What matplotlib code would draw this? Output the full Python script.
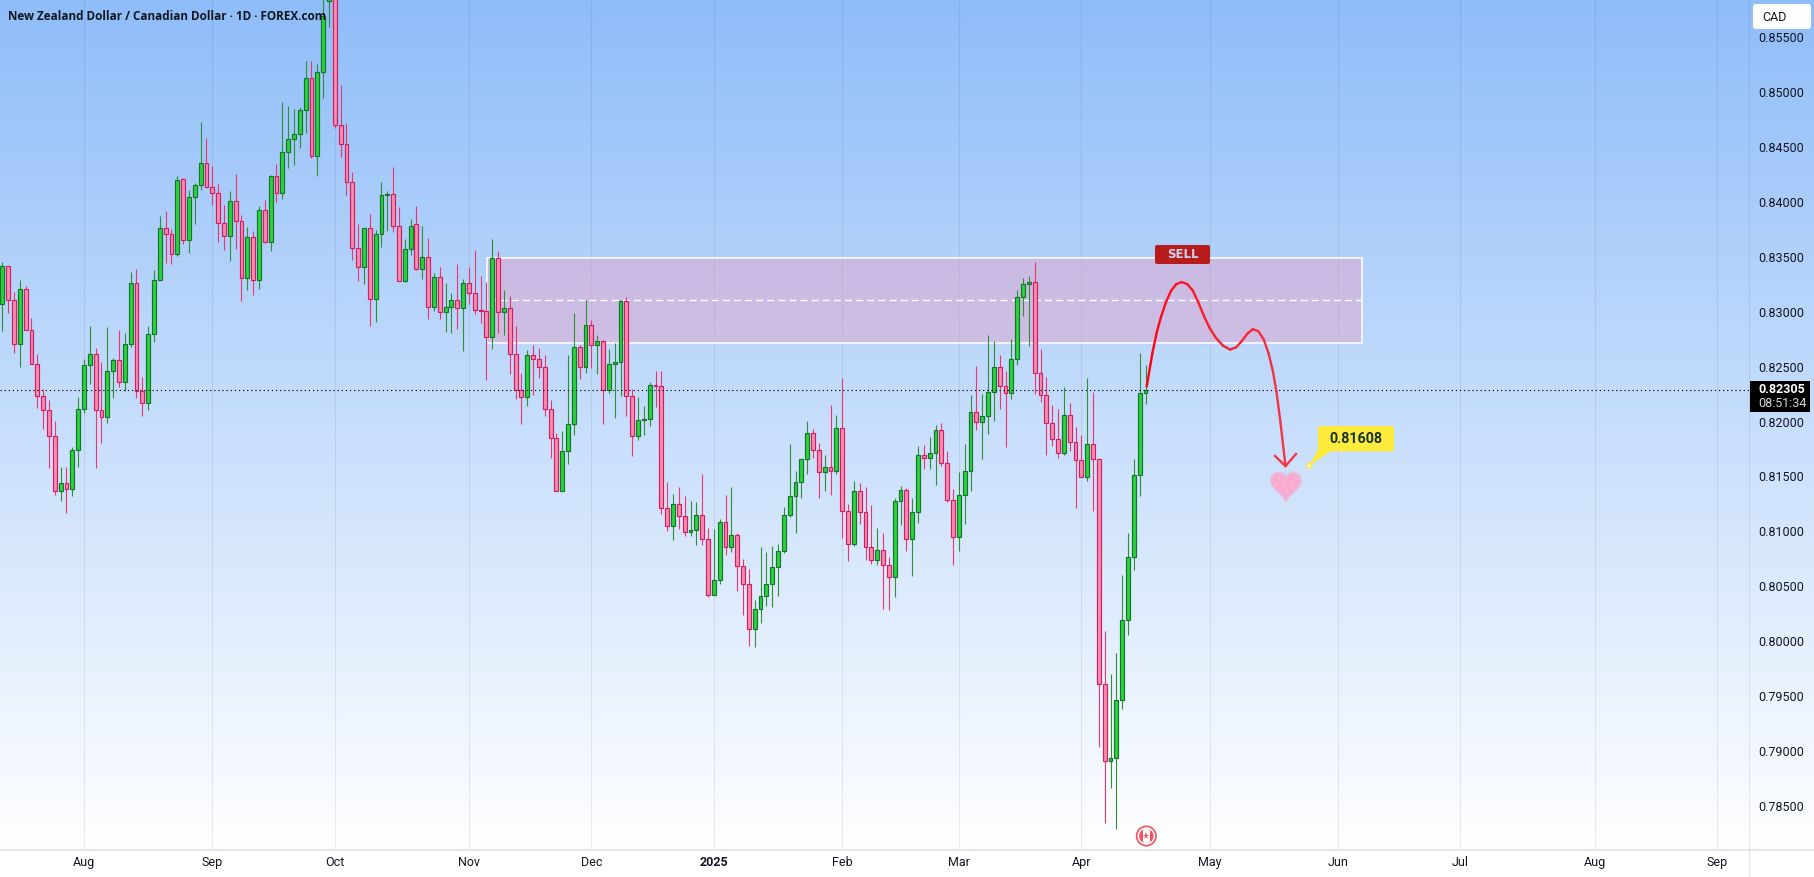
import numpy as np
import matplotlib
matplotlib.use("Agg")
import matplotlib.pyplot as plt
from matplotlib.collections import LineCollection
from matplotlib.colors import to_rgb
from matplotlib.patches import Circle, FancyBboxPatch, Polygon, Rectangle
from matplotlib.path import Path

plt.rcParams['font.family'] = ['Roboto', 'DejaVu Sans']

# NZD/CAD daily bars
opens = [
    0.83085, 0.83427, 0.83117, 0.82715, 0.83217, 0.82844, 0.82534, 0.82242, 0.82117, 0.81878,
    0.81377, 0.81458, 0.81395, 0.81750, 0.82132, 0.82524, 0.82625, 0.82117, 0.82051, 0.82471,
    0.82571, 0.82371, 0.82715, 0.83270, 0.82289, 0.82179, 0.82806, 0.83299, 0.83772, 0.83725,
    0.83534, 0.84217, 0.83662, 0.84054, 0.84164, 0.84365, 0.84145, 0.84092, 0.83825, 0.83706,
    0.84017, 0.83835, 0.83317, 0.83690, 0.83299, 0.83935, 0.83650, 0.84245, 0.84092, 0.84465,
    0.84581, 0.84634, 0.84847, 0.85145, 0.84434, 0.85192, 0.85844, 0.85920, 0.84716, 0.84543,
    0.84192, 0.83590, 0.83418, 0.83772, 0.83126, 0.83719, 0.84076, 0.84082, 0.83791, 0.83289,
    0.83581, 0.83816, 0.83405, 0.83509, 0.83060, 0.83327, 0.83013, 0.83060, 0.83117, 0.83044,
    0.83271, 0.83180, 0.83029, 0.83016, 0.82780, 0.83499, 0.83008, 0.83044, 0.82625, 0.82297,
    0.82234, 0.82616, 0.82580, 0.82507, 0.82125, 0.81861, 0.81378, 0.81742, 0.81988, 0.82689,
    0.82507, 0.82889, 0.82707, 0.82744, 0.82297, 0.82534, 0.82552, 0.83108, 0.82243, 0.81879,
    0.82031, 0.82034, 0.82346, 0.82334, 0.81224, 0.81060, 0.81260, 0.81151, 0.81005, 0.81023,
    0.81160, 0.80941, 0.80438, 0.80568, 0.81096, 0.80869, 0.80978, 0.80696, 0.80532, 0.80122,
    0.80304, 0.80423, 0.80532, 0.80687, 0.80832, 0.81160, 0.81333, 0.81460, 0.81669, 0.81906,
    0.81752, 0.81551, 0.81597, 0.81560, 0.81952, 0.81196, 0.80896, 0.81378, 0.81187, 0.80869,
    0.80750, 0.80841, 0.80705, 0.80596, 0.81287, 0.81387, 0.80941, 0.81187, 0.81706, 0.81679,
    0.81724, 0.81934, 0.81633, 0.81296, 0.80960, 0.81342, 0.81560, 0.82097, 0.82006, 0.82061,
    0.82279, 0.82507, 0.82334, 0.82270, 0.82580, 0.83144, 0.83262, 0.83281, 0.82452, 0.82252,
    0.81997, 0.81852, 0.81724, 0.82070, 0.81824, 0.81661, 0.81506, 0.81806, 0.81670, 0.79622,
    0.78920, 0.78949, 0.79476, 0.80211, 0.80776, 0.81524, 0.82269,
]
highs = [
    0.83462, 0.83427, 0.83192, 0.83302, 0.83248, 0.82957, 0.82628, 0.82308, 0.82211, 0.82020,
    0.81599, 0.81599, 0.81781, 0.82236, 0.82584, 0.82882, 0.82684, 0.82556, 0.82872, 0.82590,
    0.82847, 0.82819, 0.83374, 0.83402, 0.82418, 0.82882, 0.83393, 0.83882, 0.83929, 0.83766,
    0.84245, 0.84230, 0.84120, 0.84186, 0.84741, 0.84593, 0.84339, 0.84176, 0.83985, 0.84110,
    0.84267, 0.83894, 0.83785, 0.83747, 0.83973, 0.84029, 0.84258, 0.84358, 0.84923, 0.84885,
    0.84857, 0.84876, 0.85293, 0.85296, 0.85267, 0.85882, 0.85990, 0.86000, 0.85076, 0.84731,
    0.84286, 0.83813, 0.83772, 0.83904, 0.83753, 0.84195, 0.84110, 0.84330, 0.83966, 0.83675,
    0.83857, 0.83976, 0.83794, 0.83684, 0.83361, 0.83421, 0.83270, 0.83183, 0.83452, 0.83308,
    0.83420, 0.83575, 0.83338, 0.83284, 0.83675, 0.83566, 0.83211, 0.83156, 0.82883, 0.82455,
    0.82665, 0.82710, 0.82683, 0.82619, 0.82210, 0.81906, 0.81927, 0.82619, 0.83002, 0.82710,
    0.83120, 0.82938, 0.82801, 0.82753, 0.82674, 0.82728, 0.83120, 0.83144, 0.82307, 0.82237,
    0.82155, 0.82370, 0.82474, 0.82474, 0.81463, 0.81354, 0.81418, 0.81336, 0.81290, 0.81281,
    0.81536, 0.81045, 0.81035, 0.81123, 0.81345, 0.81418, 0.80999, 0.80762, 0.80671, 0.80389,
    0.80872, 0.80826, 0.80881, 0.80899, 0.81233, 0.81809, 0.81563, 0.81669, 0.82018, 0.81943,
    0.81818, 0.81709, 0.82164, 0.82073, 0.82410, 0.81263, 0.81472, 0.81454, 0.81418, 0.81254,
    0.81045, 0.80999, 0.80781, 0.81315, 0.81424, 0.81406, 0.81315, 0.81791, 0.81800, 0.81873,
    0.81982, 0.82000, 0.81745, 0.81397, 0.81551, 0.81809, 0.82255, 0.82519, 0.82264, 0.82801,
    0.82747, 0.82619, 0.82474, 0.82765, 0.83211, 0.83320, 0.83338, 0.83466, 0.82674, 0.82419,
    0.82164, 0.82128, 0.82328, 0.82182, 0.81964, 0.81891, 0.82410, 0.82282, 0.81680, 0.80105,
    0.79716, 0.79906, 0.80617, 0.80997, 0.81674, 0.82637, 0.82528,
]
lows = [
    0.82841, 0.83004, 0.82637, 0.82512, 0.82844, 0.82534, 0.82135, 0.81947, 0.81593, 0.81345,
    0.81289, 0.81179, 0.81336, 0.81599, 0.82095, 0.82355, 0.81593, 0.81822, 0.82001, 0.82226,
    0.82327, 0.82292, 0.82690, 0.82230, 0.82066, 0.82120, 0.82741, 0.83299, 0.83459, 0.83443,
    0.83524, 0.83631, 0.83546, 0.83813, 0.84120, 0.84145, 0.83985, 0.83646, 0.83578, 0.83477,
    0.83584, 0.83114, 0.83214, 0.83164, 0.83220, 0.83637, 0.83565, 0.84010, 0.84038, 0.84321,
    0.84349, 0.84503, 0.84640, 0.84411, 0.84248, 0.84957, 0.85606, 0.84684, 0.84421, 0.84076,
    0.83483, 0.83292, 0.83264, 0.82885, 0.82919, 0.83603, 0.83750, 0.83741, 0.83289, 0.83280,
    0.83531, 0.83396, 0.83311, 0.82951, 0.83023, 0.82951, 0.82828, 0.82819, 0.82857, 0.82656,
    0.83083, 0.82992, 0.82913, 0.82391, 0.82674, 0.82819, 0.82801, 0.82446, 0.82219, 0.81991,
    0.82155, 0.82255, 0.82410, 0.82064, 0.81682, 0.81378, 0.81378, 0.81627, 0.81891, 0.82401,
    0.82455, 0.82501, 0.82446, 0.81991, 0.82273, 0.82046, 0.82246, 0.82064, 0.81700, 0.81846,
    0.81891, 0.81973, 0.82146, 0.81172, 0.81017, 0.80935, 0.81036, 0.80972, 0.80972, 0.80890,
    0.80890, 0.80420, 0.80438, 0.80535, 0.80799, 0.80826, 0.80471, 0.80253, 0.79971, 0.79961,
    0.80180, 0.80335, 0.80326, 0.80426, 0.80817, 0.81145, 0.80999, 0.81318, 0.81536, 0.81682,
    0.81318, 0.81381, 0.81345, 0.81536, 0.80954, 0.80744, 0.80881, 0.81081, 0.80753, 0.80717,
    0.80708, 0.80307, 0.80298, 0.80417, 0.81072, 0.80835, 0.80611, 0.81087, 0.81582, 0.81582,
    0.81436, 0.81609, 0.81281, 0.80708, 0.80835, 0.81081, 0.81381, 0.81937, 0.81673, 0.81900,
    0.82019, 0.82128, 0.81782, 0.82219, 0.82528, 0.82974, 0.82701, 0.82264, 0.82191, 0.81709,
    0.81791, 0.81682, 0.81709, 0.81745, 0.81227, 0.81506, 0.81472, 0.81199, 0.79051, 0.78360,
    0.78681, 0.78304, 0.79401, 0.80074, 0.80664, 0.81334, 0.82172,
]
closes = [
    0.83427, 0.83117, 0.82715, 0.83217, 0.82844, 0.82534, 0.82242, 0.82117, 0.81878, 0.81377,
    0.81458, 0.81395, 0.81750, 0.82132, 0.82524, 0.82625, 0.82117, 0.82051, 0.82471, 0.82571,
    0.82371, 0.82715, 0.83270, 0.82289, 0.82179, 0.82806, 0.83299, 0.83772, 0.83725, 0.83534,
    0.84208, 0.83662, 0.84054, 0.84164, 0.84365, 0.84145, 0.84092, 0.83825, 0.83706, 0.84017,
    0.83835, 0.83317, 0.83690, 0.83299, 0.83935, 0.83650, 0.84245, 0.84092, 0.84465, 0.84581,
    0.84634, 0.84847, 0.85145, 0.84434, 0.85192, 0.85703, 0.85920, 0.84716, 0.84543, 0.84192,
    0.83590, 0.83418, 0.83772, 0.83126, 0.83719, 0.84073, 0.84082, 0.83791, 0.83289, 0.83581,
    0.83791, 0.83405, 0.83509, 0.83060, 0.83327, 0.83013, 0.83060, 0.83117, 0.83045, 0.83271,
    0.83180, 0.83026, 0.83023, 0.82780, 0.83499, 0.83008, 0.83044, 0.82625, 0.82297, 0.82234,
    0.82616, 0.82580, 0.82507, 0.82125, 0.81861, 0.81378, 0.81742, 0.81988, 0.82689, 0.82507,
    0.82889, 0.82707, 0.82744, 0.82297, 0.82534, 0.82552, 0.83108, 0.82243, 0.81879, 0.82025,
    0.82037, 0.82343, 0.82340, 0.81224, 0.81060, 0.81260, 0.81151, 0.81005, 0.81023, 0.81160,
    0.80941, 0.80438, 0.80568, 0.81096, 0.80869, 0.80978, 0.80696, 0.80532, 0.80122, 0.80304,
    0.80423, 0.80532, 0.80687, 0.80832, 0.81160, 0.81333, 0.81460, 0.81669, 0.81906, 0.81752,
    0.81551, 0.81597, 0.81560, 0.81952, 0.81196, 0.80896, 0.81378, 0.81187, 0.80869, 0.80750,
    0.80841, 0.80705, 0.80596, 0.81287, 0.81387, 0.80941, 0.81187, 0.81706, 0.81679, 0.81724,
    0.81934, 0.81633, 0.81296, 0.80960, 0.81342, 0.81560, 0.82097, 0.82006, 0.82061, 0.82279,
    0.82507, 0.82334, 0.82270, 0.82580, 0.83144, 0.83262, 0.83281, 0.82452, 0.82252, 0.81997,
    0.81852, 0.81724, 0.82070, 0.81824, 0.81661, 0.81506, 0.81806, 0.81670, 0.79622, 0.78920,
    0.78949, 0.79476, 0.80211, 0.80776, 0.81524, 0.82269, 0.82305,
]

month_pos = [14, 36, 57, 80, 101, 122, 144, 164, 185, 207, 229, 250, 273, 294]
month_names = ['Aug', 'Sep', 'Oct', 'Nov', 'Dec', '2025', 'Feb', 'Mar', 'Apr', 'May', 'Jun', 'Jul', 'Aug', 'Sep']
price_ticks = [0.855, 0.85, 0.845, 0.84, 0.835, 0.83, 0.825, 0.82, 0.815, 0.81, 0.805, 0.80, 0.795, 0.79, 0.785]

last_price = 0.82305
countdown = '08:51:34'
target_price = 0.81608

# supply zone drawn on the chart
zone_start, zone_end = 83.15, 233.15
zone_top, zone_bottom = 0.83499, 0.82725
zone_mid = 0.83117

# projected path, bar position and price
path_x = [196.2, 197.3, 198.6, 200.4, 202.2, 204.1, 206.0, 207.9, 210.6, 212.5, 214.4, 216.3, 217.9, 219.0, 220.0]
path_y = [0.82331, 0.82695, 0.82968, 0.83230, 0.83300, 0.83230, 0.82968, 0.82771, 0.82640,
          0.82740, 0.82885, 0.82786, 0.82483, 0.82088, target_price]
head_x = [218.2, 220.0, 221.8]
head_y = [0.81700, target_price, 0.81718]

W, H = 1815, 877
AXIS_X, AXIS_Y = 1749.5, 849.5

fig = plt.figure(figsize=(W / 100, H / 100), dpi=100, facecolor='white')

# blue to white backdrop behind the chart and the price scale
bg = fig.add_axes([0, 1 - AXIS_Y / H, 1, AXIS_Y / H], zorder=0)
top_col = np.array(to_rgb('#8fbdf9'))
grad = np.linspace(0, 1, 256)[:, None, None] * (1 - top_col) + top_col
bg.imshow(grad, aspect='auto', interpolation='bilinear')
bg.axis('off')

ax = fig.add_axes([0, 1 - AXIS_Y / H, AXIS_X / W, AXIS_Y / H], zorder=1)
ax.patch.set_alpha(0)
ax.set_xlim(-0.394, 299.55)
ax.set_ylim(0.78118, 0.858505)

grid_col = (0.16, 0.18, 0.25, 0.09)
ax.vlines(month_pos, 0, 1, transform=ax.get_xaxis_transform(), colors=[grid_col], linewidth=0.8, zorder=1)

# zone
ax.add_patch(Rectangle((zone_start, zone_bottom), zone_end - zone_start, zone_top - zone_bottom,
                       facecolor=(225 / 255, 165 / 255, 205 / 255, 0.5), edgecolor='white', linewidth=1.1, zorder=2))
ax.plot([zone_start + 0.3, zone_end], [zone_mid, zone_mid], color='white', lw=1.0,
        linestyle=(0, (5, 3)), zorder=2)

# candles
o = np.array(opens)
h = np.array(highs)
l = np.array(lows)
c = np.array(closes)
x = np.arange(len(o))
up = c >= o
ax.vlines(x[up], l[up], h[up], color='#2f8f36', linewidth=0.8, zorder=3)
ax.vlines(x[~up], l[~up], h[~up], color='#f0336f', linewidth=0.8, zorder=3)
ax.bar(x[up], (c - o)[up], bottom=o[up], width=0.66, color='#2bd33c', edgecolor='#14752b', linewidth=0.85, zorder=4)
ax.bar(x[~up], (o - c)[~up], bottom=c[~up], width=0.66, color='#f78fb1', edgecolor='#d81b60', linewidth=0.85, zorder=4)

# last price line
ax.axhline(last_price, color='black', lw=0.8, linestyle=(0, (1.1, 2.6)), zorder=5)

# projected path, fading a little from pure red along its length
verts = [(path_x[0], path_y[0])]
codes = [Path.MOVETO]
for i in range(1, len(path_x) - 1):
    mid = ((path_x[i] + path_x[i + 1]) / 2, (path_y[i] + path_y[i + 1]) / 2)
    verts += [(path_x[i], path_y[i]), mid]
    codes += [Path.CURVE3, Path.CURVE3]
verts[-1] = (path_x[-1], path_y[-1])
flat = Path(verts, codes).to_polygons(closed_only=False)[0]
segs = np.stack([flat[:-1], flat[1:]], axis=1)
start_col, end_col = np.array(to_rgb('#ff0010')), np.array(to_rgb('#f23645'))
t = np.linspace(0, 1, len(segs))[:, None] ** 0.7
ax.add_collection(LineCollection(segs, colors=start_col + (end_col - start_col) * t, linewidths=1.7, zorder=6, capstyle='round'))
ax.plot(head_x, head_y, color='#f23645', lw=1.7, zorder=6, solid_joinstyle='miter')

# price scale and time scale
ax.set_xticks(month_pos)
ax.set_xticklabels(month_names)
ax.set_yticks(price_ticks)
ax.set_yticklabels([f'{v:.5f}' for v in price_ticks], ha='left', va='center')
ax.yaxis.tick_right()
ax.tick_params(axis='both', length=0, labelsize=9, labelcolor='#131722')
ax.tick_params(axis='x', pad=5)
ax.tick_params(axis='y', pad=6)
ax.get_xticklabels()[5].set_fontweight('bold')
for s in ax.spines.values():
    s.set_visible(False)

# everything below sits on top, placed in pixels from the top left
over = fig.add_axes([0, 0, 1, 1], zorder=2)
over.axis('off')
over.set_xlim(0, W)
over.set_ylim(H, 0)

over.plot([0, W], [AXIS_Y, AXIS_Y], color='#e4e6ec', lw=1.4)
over.plot([AXIS_X, AXIS_X], [0, AXIS_Y], color=(0.16, 0.18, 0.25, 0.09), lw=0.8)
over.plot([AXIS_X, AXIS_X], [AXIS_Y, H], color='#e4e6ec', lw=0.8)

over.text(8, 17, 'New Zealand Dollar / Canadian Dollar · 1D · FOREX.com', fontsize=8.5, fontweight='bold',
          color='#131722', va='center', ha='left', family=['Open Sans', 'DejaVu Sans'])

# currency button
over.add_patch(FancyBboxPatch((1755, 6), 54, 21, boxstyle='round,pad=2,rounding_size=3', facecolor='white', edgecolor='none'))
over.text(1762, 17.5, 'CAD', fontsize=9, color='#131722', va='center', ha='left')

# last price tag
over.add_patch(Rectangle((1750, 381.3), 60, 30.7, facecolor='black', edgecolor='none'))
over.text(1758, 389.7, f'{last_price:.5f}', fontsize=9, fontweight='bold', color='white', va='center', ha='left')
over.text(1758, 403.4, countdown, fontsize=9, color='#d4d6db', va='center', ha='left')

# SELL badge
over.add_patch(FancyBboxPatch((1156, 246), 53, 17, boxstyle='round,pad=1,rounding_size=2', facecolor='#b71c1c', edgecolor='none'))
over.text(1183, 254.6, 'SELL', fontsize=8.5, fontweight='bold', color='#c9d6ee', va='center', ha='center',
          family=['DejaVu Sans'])

# target callout
over.add_patch(Polygon([[1320, 446], [1331, 451], [1309.3, 465.7]], facecolor='#ffeb3b', edgecolor='none'))
over.add_patch(FancyBboxPatch((1320, 428), 72, 21.5, boxstyle='round,pad=2,rounding_size=3', facecolor='#ffeb3b', edgecolor='none'))
over.add_patch(Circle((1309.5, 465.7), 2.4, facecolor='#fff9c4', edgecolor='#ffeb3b', lw=1.1))
over.text(1355.7, 438.6, f'{target_price:.5f}', fontsize=10.3, fontweight='bold', color='#143232', va='center', ha='center')

# heart sticker, soft edge from wider faint strokes
t = np.linspace(0, 2 * np.pi, 120)
hx = 1286 + 0.9 * 16 * np.sin(t) ** 3
hy = 484.5 - 0.95 * (13 * np.cos(t) - 5 * np.cos(2 * t) - 2 * np.cos(3 * t) - np.cos(4 * t))
for lw, alpha in [(3.2, 0.18), (2.0, 0.3), (1.0, 0.4)]:
    over.add_patch(Polygon(np.column_stack([hx, hy]), facecolor='none', edgecolor='#f9a8cf', alpha=alpha, lw=lw))
over.add_patch(Polygon(np.column_stack([hx, hy]), facecolor='#f9abd0', edgecolor='none'))
over.scatter([1279, 1291, 1286, 1296, 1276, 1283], [478, 483, 491, 478, 484, 486], s=1.2, color='#fbcfe2', linewidths=0)

# event flag marker
cx, cy = 1146.3, 836
over.add_patch(Circle((cx, cy), 9.7, facecolor='white', edgecolor='#f5525f', lw=1.2))
disc = Circle((cx, cy), 7.2, facecolor='#f5525f', edgecolor='none')
over.add_patch(disc)
over.add_patch(Rectangle((cx - 3.6, cy - 8), 7.2, 16, facecolor='white', edgecolor='none', clip_path=disc))
over.plot([cx], [cy], marker='*', ms=5.5, color='#f5525f', mew=0)

fig.savefig('out.png', dpi=100)
